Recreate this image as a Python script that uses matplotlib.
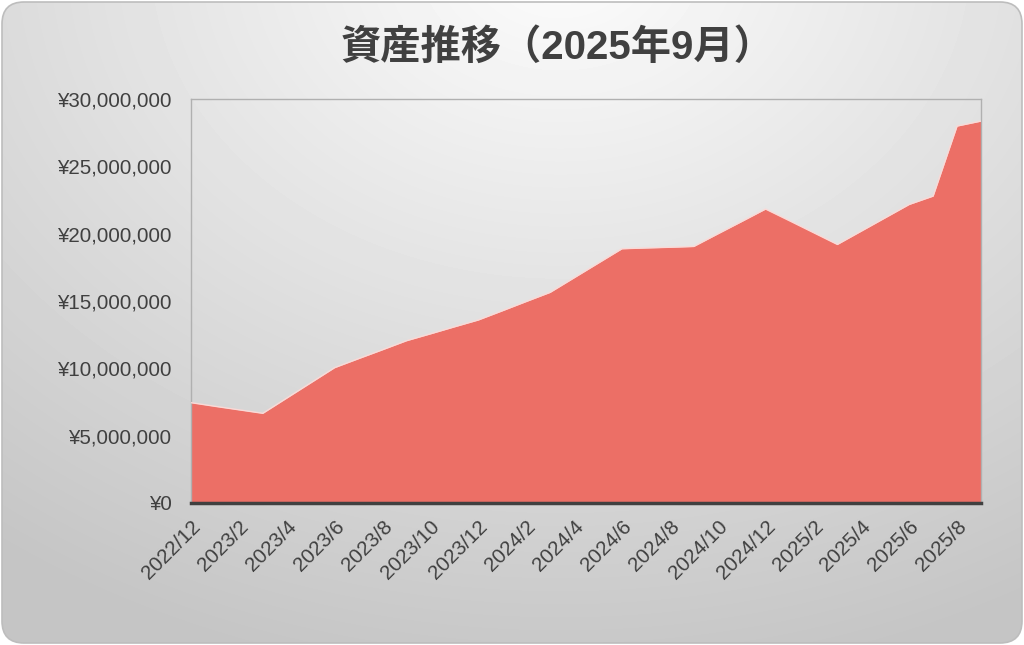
import numpy as np
import matplotlib
matplotlib.use('Agg')
import matplotlib.pyplot as plt
from matplotlib.patches import FancyBboxPatch
from matplotlib.ticker import FuncFormatter

plt.rcParams['font.family'] = ['Liberation Sans', 'Noto Sans CJK JP', 'DejaVu Sans']

# monthly asset totals, 2022/12 - 2025/9 (millions of yen)
months = ['2022/12',
          '2023/1', '2023/2', '2023/3', '2023/4', '2023/5', '2023/6',
          '2023/7', '2023/8', '2023/9', '2023/10', '2023/11', '2023/12',
          '2024/1', '2024/2', '2024/3', '2024/4', '2024/5', '2024/6',
          '2024/7', '2024/8', '2024/9', '2024/10', '2024/11', '2024/12',
          '2025/1', '2025/2', '2025/3', '2025/4', '2025/5', '2025/6',
          '2025/7', '2025/8', '2025/9']
assets_m = [7.45,
            7.18, 6.92, 6.66, 7.79, 8.92, 10.05,
            10.72, 11.38, 12.05, 12.56, 13.08, 13.59,
            14.27, 14.96, 15.64, 16.72, 17.80, 18.88,
            18.94, 18.99, 19.05, 19.98, 20.90, 21.83,
            20.96, 20.08, 19.20, 20.19, 21.18, 22.17,
            22.79, 27.99, 28.36]
assets = [v * 1e6 for v in assets_m]
title = '資産推移（2025年9月）'

fig = plt.figure(figsize=(10.24, 6.45), dpi=100)
fig.patch.set_facecolor('white')

# background panel with radial gradient
bg = fig.add_axes([0, 0, 1, 1], zorder=0)
bg.set_xlim(0, 1024)
bg.set_ylim(645, 0)
bg.axis('off')
yy, xx = np.mgrid[0:645, 0:1024]
r = np.sqrt(((xx - 560) / 900.0) ** 2 + ((yy + 40) / 700.0) ** 2)
shade = np.clip(0.99 - 0.21 * r, 0.77, 0.99)
img = bg.imshow(shade, cmap='gray', vmin=0, vmax=1, extent=(0, 1024, 645, 0),
                interpolation='bilinear')
panel = FancyBboxPatch((2, 2), 1020, 641, boxstyle='round,pad=0,rounding_size=22',
                       facecolor='none', edgecolor='#bdbdbd', linewidth=1.2)
bg.add_patch(panel)
img.set_clip_path(panel)

ax = fig.add_axes([191 / 1024, 1 - 503 / 645, 790 / 1024, 404 / 645], zorder=1)
ax.patch.set_alpha(0)

x = np.arange(len(months))
ax.fill_between(x, assets, 0, color='#ec6f66', linewidth=0, zorder=2)
ax.plot(x, assets, color='#fbd9d6', linewidth=1.0, zorder=3)

ax.set_xlim(0, len(months) - 1)
ax.set_ylim(0, 30e6)
ax.set_yticks(np.arange(0, 30e6 + 1, 5e6))
ax.yaxis.set_major_formatter(FuncFormatter(lambda v, p: '¥{:,.0f}'.format(v)))
ax.set_xticks(x[::2])
ax.set_xticklabels(months[::2], rotation=45, ha='right', rotation_mode='anchor')

for s in ['top', 'right', 'left']:
    ax.spines[s].set_color('#b0b0b0')
    ax.spines[s].set_linewidth(1.0)
ax.spines['bottom'].set_color('#404040')
ax.spines['bottom'].set_linewidth(2.5)
ax.spines['bottom'].set_zorder(4)
ax.tick_params(length=0, colors='#404040', labelsize=14.8, pad=14)
ax.tick_params(axis='x', pad=10)

fig.text(0.544, 0.927, title, ha='center', va='center', fontsize=29,
         fontweight='bold', color='#404040')

fig.savefig('out.png', dpi=100, facecolor='white')
